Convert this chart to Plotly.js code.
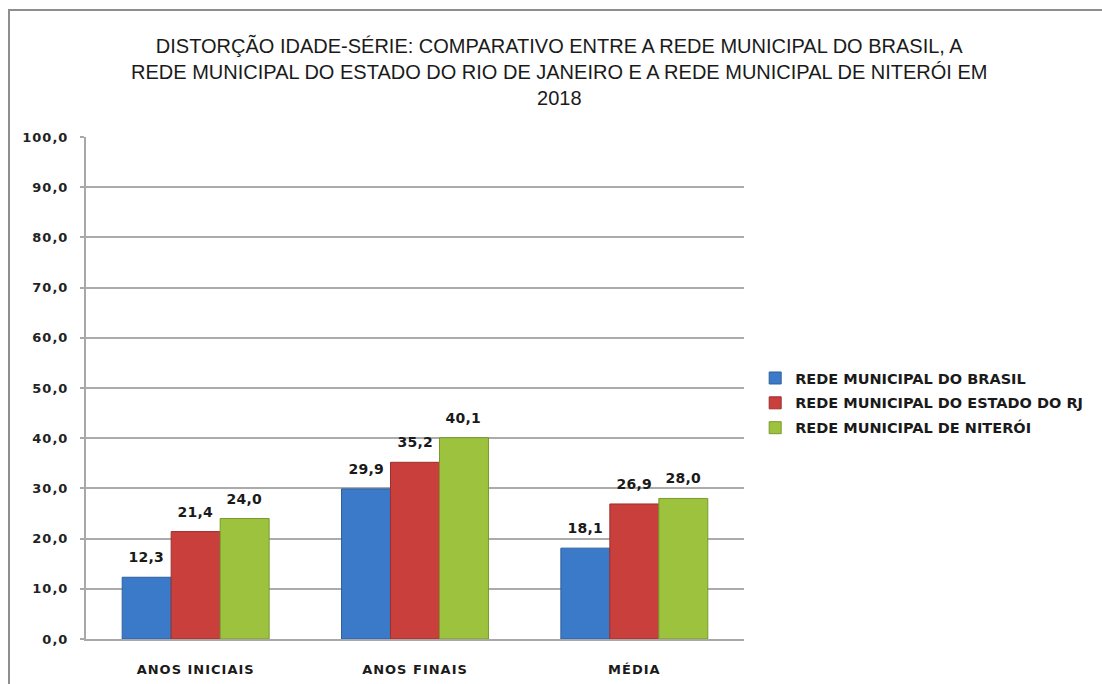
<!DOCTYPE html>
<html>
<head>
<meta charset="utf-8">
<script src="https://cdn.plot.ly/plotly-3.0.1.min.js"></script>
<style>
  html, body { margin: 0; padding: 0; background: #fff; width: 1102px; height: 684px; overflow: hidden; }
  #frame { position: absolute; left: 8px; top: 9px; width: 1094px; height: 675px;
           border-top: 2px solid #8e8e8e; border-left: 2px solid #8e8e8e; }
  #chart { width: 1092px; height: 673px; }
  #chart .xtick text { letter-spacing: 1px; }
  #chart .ytick text { letter-spacing: 1px; }
  #chart .annotation-text { letter-spacing: 0.3px; }
</style>
</head>
<body>
<div id="frame"><div id="chart"></div></div>
<script>
const categories = ["ANOS INICIAIS", "ANOS FINAIS", "MÉDIA"];
const seriesNames = [
  "REDE MUNICIPAL DO BRASIL",
  "REDE MUNICIPAL DO ESTADO DO RJ",
  "REDE MUNICIPAL DE NITERÓI"
];
const brasil = [12.3, 29.9, 18.1];
const estadoRJ = [21.4, 35.2, 26.9];
const niteroi = [24.0, 40.1, 28.0];
const yTicks = [0, 10, 20, 30, 40, 50, 60, 70, 80, 90, 100];

const seriesValues = [brasil, estadoRJ, niteroi];
const colors = ["#3b7ac9", "#c93f3c", "#9cc23e"];
const lineColors = ["#2f5f9e", "#9c2f2d", "#789a2c"];
const bargap = 0.33;
const labelFont = "DejaVu Sans, Verdana, sans-serif";

const traces = seriesValues.map((vals, s) => ({
  type: "bar",
  name: seriesNames[s],
  x: categories,
  y: vals,
  legendgroup: "g" + s,
  marker: { color: colors[s], line: { color: lineColors[s], width: 1 } },
  hoverinfo: "none"
}));

const barW = (1 - bargap) / 3;
const annotations = [];
seriesValues.forEach((vals, s) => {
  vals.forEach((v, i) => {
    annotations.push({
      x: i + (s - 1) * barW,
      y: v,
      xref: "x", yref: "y",
      text: v.toFixed(1).replace(".", ","),
      showarrow: false,
      yanchor: "bottom",
      yshift: 10,
      font: { family: labelFont, size: 14, weight: "bold", color: "#1a1a1a" }
    });
  });
});

const layout = {
  width: 1092,
  height: 673,
  paper_bgcolor: "#ffffff",
  plot_bgcolor: "#ffffff",
  separators: ",.",
  margin: { l: 76, r: 358, t: 126, b: 45 },
  barmode: "group",
  bargap: bargap,
  bargroupgap: 0,
  showlegend: true,
  title: {
    text: "DISTORÇÃO IDADE-SÉRIE: COMPARATIVO ENTRE A REDE MUNICIPAL DO BRASIL, A<br>REDE MUNICIPAL DO ESTADO DO RIO DE JANEIRO E A REDE MUNICIPAL DE NITERÓI EM<br>2018",
    font: { family: "Liberation Sans, Arial, sans-serif", size: 20, color: "#1a1a1a" },
    x: 0.503, xanchor: "center", xref: "container",
    y: 0.938, yanchor: "top", yref: "container"
  },
  xaxis: {
    type: "category",
    showgrid: false,
    showline: true,
    linecolor: "#a8a8a8",
    linewidth: 2,
    ticks: "",
    ticklabelstandoff: 17,
    tickfont: { family: labelFont, size: 13, weight: "bold", color: "#1a1a1a" }
  },
  yaxis: {
    range: [0, 100],
    tickvals: yTicks,
    tickformat: ".1f",
    showgrid: true,
    gridcolor: "#ababab",
    gridwidth: 2,
    showline: true,
    linecolor: "#a8a8a8",
    linewidth: 2,
    ticks: "outside",
    ticklen: 4,
    tickcolor: "#a8a8a8",
    tickwidth: 2,
    ticklabelstandoff: 9,
    zeroline: false,
    tickfont: { family: labelFont, size: 13, weight: "bold", color: "#222" }
  },
  legend: {
    x: 1.017, xanchor: "left",
    y: 0.47, yanchor: "middle",
    traceorder: "grouped",
    tracegroupgap: 3,
    font: { family: labelFont, size: 14.5, weight: "bold", color: "#1a1a1a" },
    itemclick: false
  },
  annotations: annotations
};

Plotly.newPlot("chart", traces, layout, { displayModeBar: false, staticPlot: true });
</script>
</body>
</html>
